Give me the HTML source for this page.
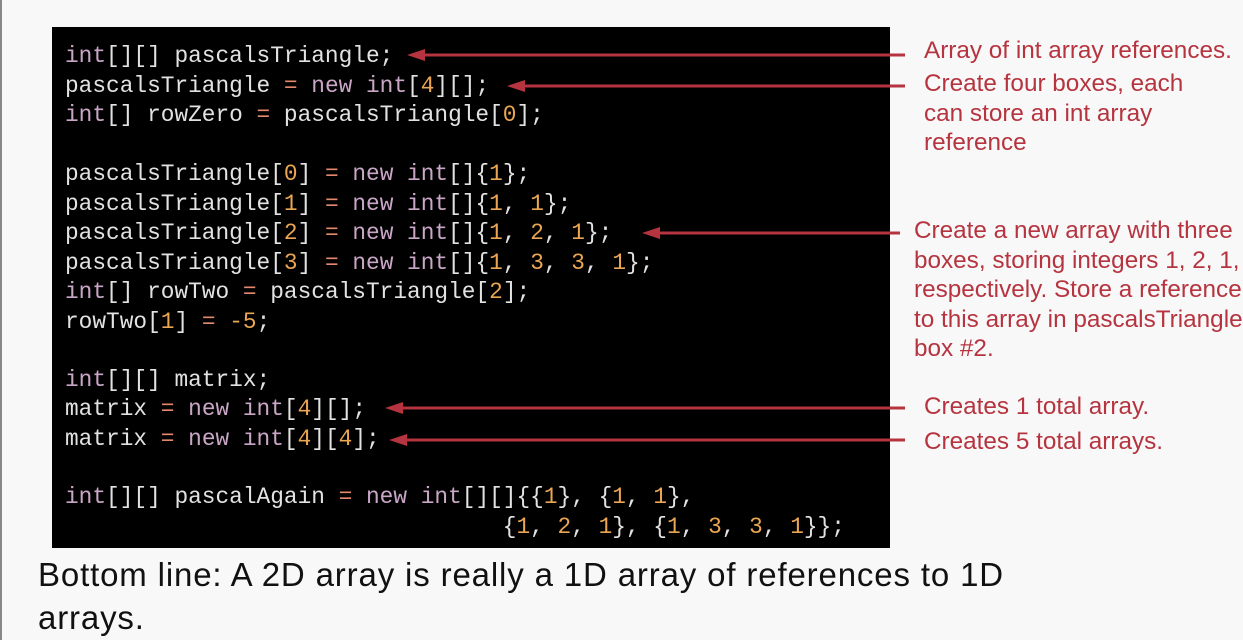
<!DOCTYPE html>
<html><head><meta charset="utf-8"><style>
body{margin:0;width:1243px;height:640px;background:#f8f8f8;position:relative;overflow:hidden;font-family:"Liberation Sans",sans-serif}
.lb{position:absolute;left:0;top:0;width:2px;height:640px;background:#888}
.box{position:absolute;left:52px;top:27px;width:838px;height:521px;background:#000}
.c{position:absolute;left:65px;font-family:"Liberation Mono",monospace;font-size:22.8px;color:#e2e2e2;white-space:pre;line-height:30px}
.k{color:#c9a6c6}.n{color:#eaa652}.e{color:#e38a6e}
.a{position:absolute;color:#b5343f;font-size:24.3px;line-height:29.5px;white-space:pre}
.bt{position:absolute;left:38px;font-size:33px;letter-spacing:0.85px;color:#111;white-space:pre;line-height:43px}
</style></head><body>
<div class="lb"></div>
<div class="box"></div>
<div class="c" style="top:41px"><span class="k">int</span>[][] pascalsTriangle;</div>
<div class="c" style="top:71px">pascalsTriangle <span class="e">=</span> <span class="k">new int</span>[<span class="n">4</span>][];</div>
<div class="c" style="top:100px"><span class="k">int</span>[] rowZero <span class="e">=</span> pascalsTriangle[<span class="n">0</span>];</div>
<div class="c" style="top:159px">pascalsTriangle[<span class="n">0</span>] <span class="e">=</span> <span class="k">new int</span>[]{<span class="n">1</span>};</div>
<div class="c" style="top:189px">pascalsTriangle[<span class="n">1</span>] <span class="e">=</span> <span class="k">new int</span>[]{<span class="n">1</span>, <span class="n">1</span>};</div>
<div class="c" style="top:218px">pascalsTriangle[<span class="n">2</span>] <span class="e">=</span> <span class="k">new int</span>[]{<span class="n">1</span>, <span class="n">2</span>, <span class="n">1</span>};</div>
<div class="c" style="top:248px">pascalsTriangle[<span class="n">3</span>] <span class="e">=</span> <span class="k">new int</span>[]{<span class="n">1</span>, <span class="n">3</span>, <span class="n">3</span>, <span class="n">1</span>};</div>
<div class="c" style="top:277px"><span class="k">int</span>[] rowTwo <span class="e">=</span> pascalsTriangle[<span class="n">2</span>];</div>
<div class="c" style="top:307px">rowTwo[<span class="n">1</span>] <span class="e">=</span> <span class="n">-5</span>;</div>
<div class="c" style="top:365px"><span class="k">int</span>[][] matrix;</div>
<div class="c" style="top:394px">matrix <span class="e">=</span> <span class="k">new int</span>[<span class="n">4</span>][];</div>
<div class="c" style="top:424px">matrix <span class="e">=</span> <span class="k">new int</span>[<span class="n">4</span>][<span class="n">4</span>];</div>
<div class="c" style="top:482px"><span class="k">int</span>[][] pascalAgain <span class="e">=</span> <span class="k">new int</span>[][]{{<span class="n">1</span>}, {<span class="n">1</span>, <span class="n">1</span>},</div>
<div class="c" style="top:512px">                                {<span class="n">1</span>, <span class="n">2</span>, <span class="n">1</span>}, {<span class="n">1</span>, <span class="n">3</span>, <span class="n">3</span>, <span class="n">1</span>}};</div>
<svg style="position:absolute;left:0;top:0" width="1243" height="640">
<g stroke="#b5343f" stroke-width="3" fill="#b5343f">
<line x1="420" y1="55" x2="905" y2="55"/><polygon points="407,55 425,49 425,61" stroke="none"/>
<line x1="520" y1="86" x2="905" y2="86"/><polygon points="507,86 525,80 525,92" stroke="none"/>
<line x1="655" y1="233" x2="900" y2="233"/><polygon points="642,233 660,227 660,239" stroke="none"/>
<line x1="398" y1="408" x2="905" y2="408"/><polygon points="385,408 403,402 403,414" stroke="none"/>
<line x1="402" y1="440" x2="905" y2="440"/><polygon points="389,440 407,434 407,446" stroke="none"/>
</g></svg>
<div class="a" style="left:924px;top:36px">Array of int array references.</div>
<div class="a" style="left:924px;top:69px">Create four boxes, each
can store an int array
reference</div>
<div class="a" style="left:914px;top:216px">Create a new array with three
boxes, storing integers 1, 2, 1,
respectively. Store a reference
to this array in pascalsTriangle
box #2.</div>
<div class="a" style="left:924px;top:392px">Creates 1 total array.</div>
<div class="a" style="left:924px;top:427px">Creates 5 total arrays.</div>
<div class="bt" style="top:553px">Bottom line: A 2D array is really a 1D array of references to 1D
arrays.</div>
</body></html>
